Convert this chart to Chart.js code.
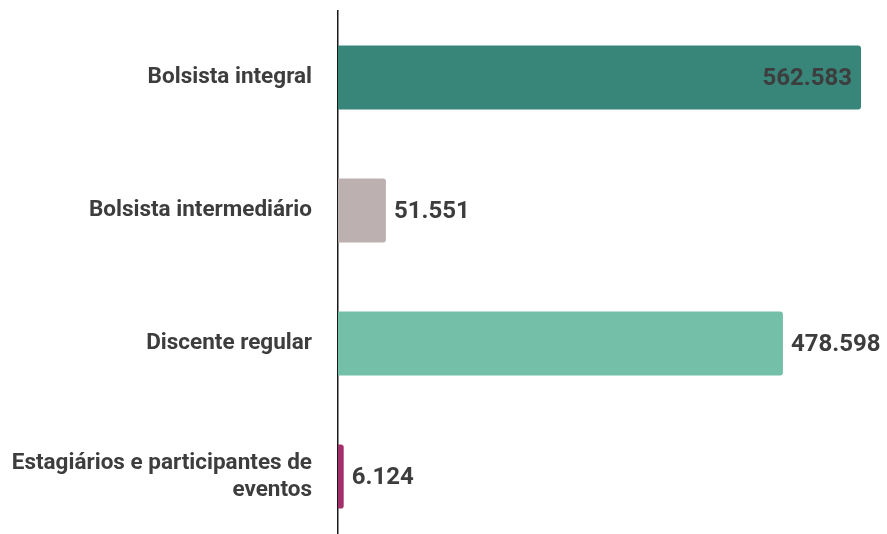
<!DOCTYPE html>
<html>
<head>
<meta charset="utf-8">
<script src="https://cdn.jsdelivr.net/npm/chart.js@4.4.1/dist/chart.umd.min.js"></script>
<style>
  html, body { margin: 0; padding: 0; background: #fff; overflow: hidden; }
  #wrap { position: relative; width: 887px; height: 543px; }
</style>
</head>
<body>
<div id="wrap"><canvas id="chart"></canvas></div>
<script>
// --- data ---
const categories = [
  "Bolsista integral",
  "Bolsista intermediário",
  "Discente regular",
  ["Estagiários e participantes de", "eventos"]
];
const values = [562583, 51551, 478598, 6124];
const barColors = ["#38857a", "#bdb0b0", "#74bfa7", "#a3306a"];

const FONT = "Roboto, 'Noto Sans', sans-serif";

// pt-BR style thousands: 562.583
function fmt(v) {
  return v.toLocaleString("pt-BR");
}

// value labels: outside the bar end, or inside if it would run off the canvas
const valueLabels = {
  id: "valueLabels",
  afterDatasetsDraw(chart) {
    const ctx = chart.ctx;
    const meta = chart.getDatasetMeta(0);
    ctx.save();
    ctx.font = "bold 24px " + FONT;
    ctx.fillStyle = "#3d3d3d";
    ctx.textBaseline = "middle";
    meta.data.forEach((bar, i) => {
      const txt = fmt(values[i]);
      const w = ctx.measureText(txt).width;
      if (bar.x + 8 + w > chart.width - 4) {
        ctx.textAlign = "right";
        ctx.fillText(txt, bar.x - 9, bar.y + 1);
      } else {
        ctx.textAlign = "left";
        ctx.fillText(txt, bar.x + 8, bar.y + 1);
      }
    });
    ctx.restore();
  }
};

new Chart(document.getElementById("chart"), {
  type: "bar",
  data: {
    labels: categories,
    datasets: [{
      data: values,
      backgroundColor: barColors,
      borderRadius: { topRight: 3, bottomRight: 3, topLeft: 0, bottomLeft: 0 },
      borderSkipped: false,
      categoryPercentage: 1,
      barPercentage: 0.482
    }]
  },
  options: {
    indexAxis: "y",
    responsive: true,
    maintainAspectRatio: false,
    animation: false,
    layout: { padding: { top: 11, right: 26, bottom: 0, left: 0 } },
    plugins: {
      legend: { display: false },
      tooltip: { enabled: false }
    },
    scales: {
      x: {
        display: false,
        min: 0,
        max: 562583
      },
      y: {
        grid: { display: false },
        border: { display: true, color: "#1a1a1a", width: 1.5 },
        ticks: {
          color: "#3d3d3d",
          padding: 18,
          font: { family: FONT, size: 22.5, weight: "bold", lineHeight: 1.2 }
        },
        afterFit(scale) {
          scale.width = 338;
          scale.paddingTop = 0;
          scale.paddingBottom = 0;
        }
      }
    }
  },
  plugins: [valueLabels]
});
</script>
</body>
</html>
